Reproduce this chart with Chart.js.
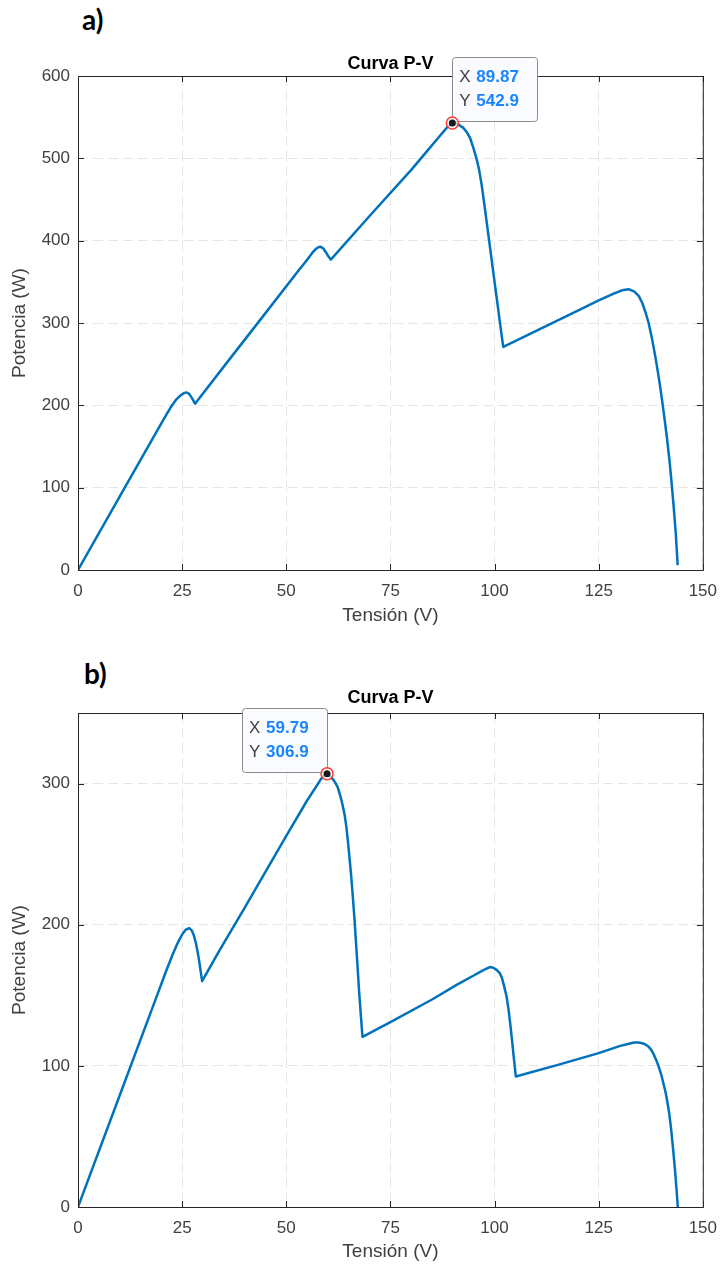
<!DOCTYPE html>
<html>
<head>
<meta charset="utf-8">
<script src="https://cdn.jsdelivr.net/npm/chart.js@4.4.1/dist/chart.umd.min.js"></script>
<style>
  body { margin: 0; background: #fff; width: 728px; height: 1266px; position: relative; overflow: hidden; }
  .panel { position: absolute; left: 0; }
  .tag { position: absolute; font-family: Lato, "Open Sans", sans-serif; font-weight: bold; font-size: 28px; color: #000; }
</style>
</head>
<body>
<div class="tag" style="left:82px; top:2px;">a)</div>
<div class="tag" style="left:84px; top:656px;">b)</div>
<canvas id="chartA" class="panel" style="top:0px;" width="728" height="640"></canvas>
<canvas id="chartB" class="panel" style="top:640px;" width="728" height="626"></canvas>
<script>
// Global vars
var xTicks = [0, 25, 50, 75, 100, 125, 150];
var yTicksA = [0, 100, 200, 300, 400, 500, 600];
var yTicksB = [0, 100, 200, 300];

// a) curva P-V
var voltA = [0, 10, 20, 21.5, 22.5, 23.5, 24.5, 25.3, 26, 26.7, 27.4, 28.1,
  35, 45, 53, 54.5, 55.5, 56.3, 57, 57.7, 58.3, 58.9, 59.5, 60.1, 60.7,
  70, 80, 84, 86.5, 88.5, 89.87, 90.7, 91.5, 92.5, 93.3, 94.1, 94.9, 95.7, 96.3, 96.9, 97.5, 98.1,
  98.7, 99.3, 99.9, 100.5, 101.1, 101.7, 102.1,
  110, 120, 125, 127, 128.5, 130, 131, 132.2, 133.5, 134.6, 135.5, 136.3, 137, 137.8, 138.5,
  139, 139.6, 140.2, 140.8, 141.4, 142, 142.5, 143, 143.5, 143.96];
var powA = [0, 89, 178, 191, 199.5, 206.5, 211.5, 214.5, 215.7, 214, 208.5, 202,
  247, 312, 364, 373.5, 380, 385.5, 389.5, 392, 392.5, 390.5, 386, 381, 377,
  430, 486, 510, 525, 537, 542.9, 542.3, 540.5, 537, 532, 525, 513, 499, 486, 468, 446, 423,
  400, 377, 354, 331, 308, 285, 271,
  290.5, 315, 327.5, 332, 335.5, 338.5, 340.2, 341, 338.5, 333, 324, 312, 300, 281, 262,
  247, 228, 207, 184, 160, 133, 106, 77, 45, 6];
var tipA = [89.87, 542.9];

// b) curva P-V
var voltB = [0, 10, 19.5, 21, 22.7, 24, 25, 25.8, 26.7, 27.3, 27.8, 28.3, 28.7, 29.05, 29.4, 29.8,
  33.8, 40, 50, 55, 57, 58.4, 59.2, 59.79,
  60.5, 61.2, 61.8, 62.4, 63, 63.5, 64, 64.4, 64.8, 65.2, 65.6, 66, 66.4, 66.7, 67.1, 67.5, 67.9, 68.3,
  75, 85, 91, 95, 97, 98, 98.9, 99.7, 100.5, 101.3, 101.8, 102.3, 102.9, 103.4, 103.8, 104.2, 104.6, 105.1,
  115, 125, 130, 132, 133.5, 134.5, 135.5, 136.3, 137, 137.7, 138.3, 138.9, 139.4, 140, 140.5,
  141, 141.4, 141.9, 142.4, 142.9, 143.3, 143.7, 144];
var powB = [0, 79, 154, 166, 178.7, 187.5, 193, 196.3, 197.6, 196, 192.5, 187, 181, 175, 168, 160,
  181, 212, 263, 288, 297, 303.5, 306, 306.9,
  305.5, 303, 300.5, 297, 291, 285, 278, 270, 259, 247, 234, 219, 203, 189, 171, 152, 136, 120.5,
  131, 147, 157.5, 164, 167.3, 168.8, 170, 169.5, 168, 165.5, 162, 156.5, 149, 139, 129, 118, 106.5, 92.5,
  100.5, 109, 114, 115.5, 116.5, 116.6, 116, 115, 113.5, 111, 107.5, 103.5, 99.5, 94, 88,
  82, 76, 67, 55, 40, 27, 12, 0];
var tipB = [59.79, 306.9];

var axisColor = '#404040';
var fontFam = '"Liberation Sans", Arial, sans-serif';

function toPoints(xs, ys) {
    var ret = [];
    for (var i = 0; i < xs.length; i++) {
        ret.push({x: xs[i], y: ys[i]});
    }
    return ret;
}

// caja de ejes con marcas hacia dentro (estilo MATLAB)
var boxPlugin = {
    id: 'axbox',
    afterDraw: function(chart) {
        var ctx = chart.ctx, a = chart.chartArea;
        var sx = chart.scales.x, sy = chart.scales.y;
        ctx.save();
        ctx.strokeStyle = '#262626';
        ctx.lineWidth = 1;
        ctx.strokeRect(a.left + 0.5, a.top + 0.5, a.right - a.left, a.bottom - a.top);
        ctx.beginPath();
        sx.ticks.forEach(function(t) {
            var px = Math.round(sx.getPixelForValue(t.value)) + 0.5;
            ctx.moveTo(px, a.bottom); ctx.lineTo(px, a.bottom - 6);
            ctx.moveTo(px, a.top); ctx.lineTo(px, a.top + 6);
        });
        sy.ticks.forEach(function(t) {
            var py = Math.round(sy.getPixelForValue(t.value)) + 0.5;
            ctx.moveTo(a.left, py); ctx.lineTo(a.left + 6, py);
            ctx.moveTo(a.right, py); ctx.lineTo(a.right - 6, py);
        });
        ctx.stroke();
        ctx.restore();
    }
};

// datatip
var tipPlugin = {
    id: 'datatip',
    afterDraw: function(chart, args, opts) {
        var ctx = chart.ctx;
        var px = chart.scales.x.getPixelForValue(opts.value[0]);
        var py = chart.scales.y.getPixelForValue(opts.value[1]);
        var w = 85, h = 64;
        var bx = opts.side === 'right' ? px : px - w;
        var by = py - 2 - h;
        ctx.save();
        ctx.fillStyle = '#fafbff';
        ctx.strokeStyle = '#8c8c8c';
        ctx.lineWidth = 1;
        ctx.beginPath();
        ctx.roundRect(Math.round(bx) + 0.5, Math.round(by) + 0.5, w, h, 3);
        ctx.fill();
        ctx.stroke();

        ctx.textBaseline = 'middle';
        var rows = [['X', opts.value[0]], ['Y', opts.value[1]]];
        for (var i = 0; i < rows.length; i++) {
            var ty = by + 20 + i * 24;
            ctx.font = '17px ' + fontFam;
            ctx.fillStyle = '#404040';
            ctx.fillText(rows[i][0], bx + 7, ty);
            ctx.font = 'bold 17px ' + fontFam;
            ctx.fillStyle = '#1a85ff';
            ctx.fillText(String(rows[i][1]), bx + 24, ty);
        }

        ctx.beginPath();
        ctx.arc(px, py, 6, 0, 2 * Math.PI);
        ctx.fillStyle = 'rgba(255,255,255,0.7)';
        ctx.fill();
        ctx.lineWidth = 1.5;
        ctx.strokeStyle = '#ff3b30';
        ctx.stroke();
        ctx.beginPath();
        ctx.arc(px, py, 3.5, 0, 2 * Math.PI);
        ctx.fillStyle = '#1a1a1a';
        ctx.fill();
        ctx.restore();
    }
};

function drawChart(chartId, volts, pows, yTicks, yMax, tip, side, cfg) {
    var ctx = document.getElementById(chartId).getContext('2d');
    return new Chart(ctx, {
        type: 'line',
        data: {
            datasets: [{
                data: toPoints(volts, pows),
                borderColor: '#0072bd',
                borderWidth: 2.5,
                borderJoinStyle: 'round',
                pointRadius: 0,
                tension: 0,
                fill: false
            }]
        },
        options: {
            responsive: false,
            animation: false,
            devicePixelRatio: 1,
            layout: { padding: { left: 0, right: 20, top: 0, bottom: 0 } },
            plugins: {
                legend: { display: false },
                tooltip: { enabled: false },
                title: {
                    display: true,
                    fullSize: false,
                    text: 'Curva P-V',
                    color: '#000',
                    font: { family: fontFam, size: 18, weight: 'bold' },
                    padding: { top: cfg.titleTop, bottom: cfg.titleBottom }
                },
                datatip: { value: tip, side: side }
            },
            scales: {
                x: {
                    type: 'linear',
                    min: 0,
                    max: 150,
                    afterBuildTicks: function(s) { s.ticks = xTicks.map(function(v) { return {value: v}; }); },
                    afterFit: function(s) { s.height = cfg.xHeight; },
                    grid: { color: '#e6e6e6', drawTicks: false, lineWidth: 1 },
                    border: { display: false, dash: [10, 5] },
                    ticks: { color: axisColor, padding: 11, font: { family: fontFam, size: 17 } },
                    title: {
                        display: true,
                        text: 'Tensión (V)',
                        color: axisColor,
                        font: { family: fontFam, size: 19 },
                        padding: { top: 0, bottom: cfg.xTitleBottom }
                    }
                },
                y: {
                    type: 'linear',
                    min: 0,
                    max: yMax,
                    afterBuildTicks: function(s) { s.ticks = yTicks.map(function(v) { return {value: v}; }); },
                    afterFit: function(s) { s.width = 78; },
                    grid: { color: '#e6e6e6', drawTicks: false, lineWidth: 1 },
                    border: { display: false, dash: [10, 5] },
                    ticks: { color: axisColor, padding: 8, font: { family: fontFam, size: 17 } },
                    title: {
                        display: true,
                        text: 'Potencia (W)',
                        color: axisColor,
                        font: { family: fontFam, size: 19 },
                        padding: { top: 8.5, bottom: 0 }
                    }
                }
            }
        },
        plugins: [boxPlugin, tipPlugin]
    });
}

drawChart('chartA', voltA, powA, yTicksA, 600, tipA, 'right',
    { titleTop: 53, titleBottom: 1.4, xHeight: 70, xTitleBottom: 12.5 });
drawChart('chartB', voltB, powB, yTicksB, 350, tipB, 'left',
    { titleTop: 47, titleBottom: 4.4, xHeight: 59, xTitleBottom: 2.5 });
</script>
</body>
</html>
